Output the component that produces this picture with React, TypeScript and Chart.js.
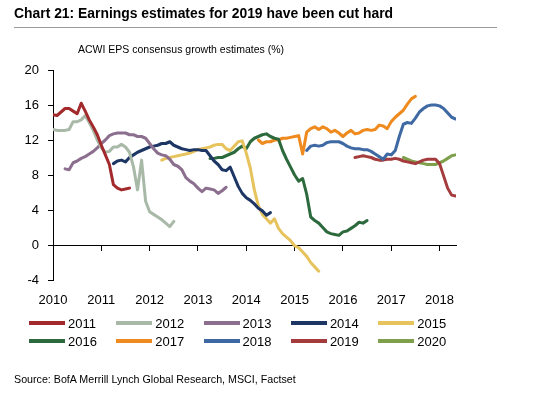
import React, { useEffect, useRef } from "react";
import { Chart, registerables } from "chart.js";

Chart.register(...registerables);

// ---------- data ----------
const xTickYears = [2010, 2011, 2012, 2013, 2014, 2015, 2016, 2017, 2018];
const yTickValues = [-4, 0, 4, 8, 12, 16, 20];

const seriesNames = ["2011", "2012", "2013", "2014", "2015", "2016", "2017", "2018", "2019", "2020"];
// first month of each series (decimal year), values are monthly
const seriesStarts = [2010.0, 2010.0, 2010.25, 2011.25, 2012.25, 2013.25, 2014.25, 2015.25, 2016.25, 2017.25];

const eps2011 = [14.9, 14.8, 15.2, 15.6, 15.6, 15.3, 15.0, 16.2, 15.3, 14.3, 13.5, 12.6, 11.4, 10.3, 9.2, 6.9, 6.5, 6.3, 6.4, 6.5];
const eps2012 = [13.2, 13.1, 13.1, 13.1, 13.2, 14.1, 14.1, 14.3, 14.8, 14.0, 13.1, 12.0, 11.1, 10.6, 10.7, 11.2, 11.2, 11.5, 11.2, 10.6, 8.9, 6.3, 9.7, 5.0, 3.8, 3.5, 3.2, 2.9, 2.5, 2.1, 2.7];
const eps2013 = [8.7, 8.6, 9.4, 9.6, 9.9, 10.1, 10.4, 10.7, 11.1, 11.6, 12.0, 12.5, 12.7, 12.8, 12.8, 12.8, 12.6, 12.6, 12.4, 12.4, 12.2, 11.6, 11.0, 10.5, 10.3, 10.2, 9.8, 9.2, 9.0, 8.6, 7.7, 7.3, 7.0, 6.5, 6.1, 6.5, 6.4, 6.3, 5.9, 6.2, 6.6];
const eps2014 = [9.3, 9.6, 9.7, 9.5, 10.0, 10.3, 10.6, 10.8, 11.0, 11.2, 11.3, 11.4, 11.6, 11.6, 11.8, 11.4, 11.2, 11.0, 10.9, 10.8, 10.9, 10.9, 10.8, 10.8, 10.2, 9.6, 9.2, 8.6, 8.5, 8.9, 7.8, 6.7, 5.9, 5.4, 5.1, 4.7, 4.2, 3.9, 3.4, 3.7];
const eps2015 = [9.7, 9.9, 10.0, 10.1, 10.2, 10.3, 10.4, 10.5, 10.7, 10.9, 11.0, 11.1, 11.2, 11.4, 11.5, 11.5, 11.0, 10.8, 11.3, 11.8, 11.9, 10.5, 8.8, 6.3, 4.5, 3.5, 3.0, 2.5, 3.0, 1.9, 1.3, 0.9, 0.5, -0.1, -0.3, -0.8, -1.3, -2.0, -2.5, -3.0];
const eps2016 = [9.9, 9.9, 10.0, 10.0, 10.2, 10.4, 10.6, 11.0, 11.3, 11.0, 11.8, 12.2, 12.4, 12.6, 12.7, 12.4, 12.2, 12.1, 10.8, 9.8, 8.9, 8.0, 7.3, 7.6, 5.8, 3.2, 2.8, 2.5, 2.0, 1.5, 1.3, 1.2, 1.1, 1.5, 1.6, 1.9, 2.2, 2.6, 2.5, 2.8];
const eps2017 = [12.0, 11.6, 11.8, 11.8, 12.0, 12.0, 12.2, 12.2, 12.3, 12.4, 12.5, 10.4, 12.9, 13.3, 13.5, 13.2, 13.5, 13.3, 12.9, 13.1, 12.8, 12.4, 12.8, 13.1, 12.7, 12.8, 13.1, 13.2, 13.1, 13.2, 13.7, 13.6, 13.3, 14.1, 14.6, 15.0, 15.4, 16.1, 16.7, 17.0];
const eps2018 = [10.8, 11.3, 11.4, 11.3, 11.4, 11.7, 11.8, 11.8, 11.8, 11.6, 11.3, 11.1, 11.0, 11.0, 10.9, 10.9, 10.7, 10.4, 10.1, 9.8, 10.4, 10.3, 10.8, 12.4, 13.8, 14.0, 13.9, 14.5, 15.2, 15.6, 15.9, 16.0, 16.0, 15.9, 15.6, 15.1, 14.6, 14.4];
const eps2019 = [10.0, 10.1, 10.2, 10.1, 10.0, 9.8, 9.7, 9.7, 9.8, 9.8, 9.9, 9.8, 9.6, 9.5, 9.4, 9.3, 9.5, 9.7, 9.8, 9.8, 9.8, 9.3, 7.9, 6.5, 5.7, 5.6];
const eps2020 = [10.0, 9.8, 9.6, 9.5, 9.4, 9.3, 9.2, 9.2, 9.2, 9.4, 9.6, 9.9, 10.2, 10.3];

const seriesValues = [eps2011, eps2012, eps2013, eps2014, eps2015, eps2016, eps2017, eps2018, eps2019, eps2020];

// ---------- styles ----------
const seriesColors = ["#A2292C", "#A9B9A8", "#8C6F8E", "#1D3664", "#E7C35E", "#2C6A3D", "#EE8A1E", "#3F69A3", "#A43B3D", "#7EA04D"];
const FONT = "'Liberation Sans', Arial, Helvetica, sans-serif";
const X_MIN = 2010;
const X_MAX = 2018.34;

export default function App() {
  const canvasRef = useRef<HTMLCanvasElement | null>(null);

  useEffect(() => {
    const canvas = canvasRef.current;
    if (!canvas) return;
    const datasets = seriesNames.map((name, k) => ({
      label: name,
      data: seriesValues[k].map((v, i) => ({ x: seriesStarts[k] + i / 12, y: v })),
      borderColor: seriesColors[k],
      backgroundColor: seriesColors[k],
      borderWidth: 3,
      pointRadius: 0,
      tension: 0,
      borderJoinStyle: "round" as const,
      borderCapStyle: "round" as const,
      xAxisID: "x",
      yAxisID: "y",
    }));

    const chart = new Chart(canvas, {
      type: "line",
      data: { datasets },
      options: {
        animation: false,
        responsive: false,
        devicePixelRatio: 1,
        layout: { padding: { left: 0, top: 70, right: 86, bottom: 84 } },
        plugins: {
          legend: { display: false },
          title: { display: false },
          tooltip: { enabled: false },
        },
        scales: {
          x: {
            type: "linear",
            position: "bottom",
            min: X_MIN,
            max: X_MAX,
            afterFit: (s: any) => {
              s.height = 30;
            },
            afterBuildTicks: (s: any) => {
              s.ticks = xTickYears.map((v) => ({ value: v }));
            },
            ticks: {
              stepSize: 1,
              includeBounds: false,
              autoSkip: false,
              maxRotation: 0,
              padding: 13,
              color: "#000",
              font: { family: FONT, size: 13 },
              callback: (v: any) => String(v),
            },
            grid: { display: false, drawTicks: false },
            border: { display: false },
          },
          x2: {
            type: "linear",
            axis: "x",
            position: { y: 0 } as any,
            min: X_MIN,
            max: X_MAX,
            afterBuildTicks: (s: any) => {
              s.ticks = xTickYears.map((v) => ({ value: v }));
            },
            ticks: { display: false, stepSize: 1, includeBounds: false },
            grid: { drawOnChartArea: false, drawTicks: true, tickLength: 5, color: "#000", lineWidth: 1 },
            border: { display: true, color: "#000", width: 1 },
          },
          y: {
            type: "linear",
            position: "left",
            min: -4,
            max: 20,
            afterFit: (s: any) => {
              s.width = 53;
            },
            afterBuildTicks: (s: any) => {
              s.ticks = yTickValues.map((v) => ({ value: v }));
            },
            ticks: {
              stepSize: 4,
              padding: 9,
              color: "#000",
              font: { family: FONT, size: 13 },
              callback: (v: any) => String(v),
            },
            grid: { drawOnChartArea: false, drawTicks: true, tickLength: 5, color: "#000", lineWidth: 1 },
            border: { display: true, color: "#000", width: 1 },
          },
        },
      },
    });
    return () => chart.destroy();
  }, []);

  const legendCols = [29, 116.3, 203.6, 290.9, 378.2];
  const legendRows = [322.5, 340.5];

  return (
    <div style={{ position: "fixed", left: 0, top: 0, width: 542, height: 394, background: "#fff", fontFamily: FONT, color: "#000", overflow: "hidden" }}>
      <canvas ref={canvasRef} width={542} height={394} style={{ position: "absolute", left: 0, top: 0, width: 542, height: 394 }} />
      <div style={{ position: "absolute", left: 14, top: 6.7, fontSize: 13.9, lineHeight: 1, fontWeight: "bold", whiteSpace: "nowrap" }}>
        Chart 21: Earnings estimates for 2019 have been cut hard
      </div>
      <div style={{ position: "absolute", left: 14, top: 27, width: 483, height: 1, background: "#9a9a9a" }} />
      <div style={{ position: "absolute", left: 78, top: 43.8, fontSize: 10.5, lineHeight: 1, whiteSpace: "nowrap" }}>
        ACWI EPS consensus growth estimates (%)
      </div>
      {seriesNames.map((name, k) => {
        const col = legendCols[k % 5];
        const row = legendRows[Math.floor(k / 5)];
        return (
          <React.Fragment key={name}>
            <div style={{ position: "absolute", left: col, top: row - 2, width: 36, height: 4, background: seriesColors[k] }} />
            <div style={{ position: "absolute", left: col + 39, top: row - 5.8, fontSize: 13, lineHeight: 1, whiteSpace: "nowrap" }}>{name}</div>
          </React.Fragment>
        );
      })}
      <div style={{ position: "absolute", left: 14, top: 373.6, fontSize: 10.7, lineHeight: 1, whiteSpace: "nowrap" }}>
        Source: BofA Merrill Lynch Global Research, MSCI, Factset
      </div>
    </div>
  );
}
